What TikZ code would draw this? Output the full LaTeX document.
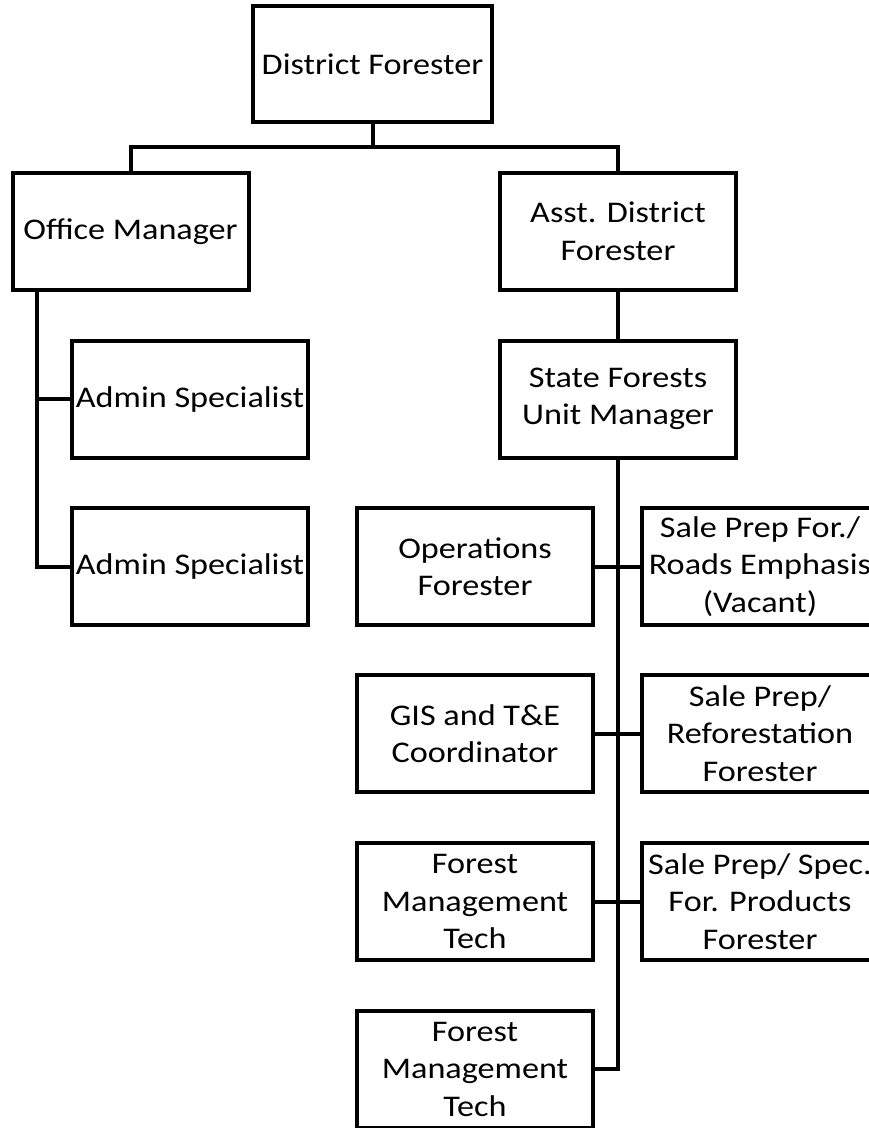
\documentclass[tikz,border=0pt]{standalone}
\usepackage{fontspec}
\setmainfont{Carlito}[FakeStretch=1.14]
\begin{document}
\begin{tikzpicture}[x=1pt,y=-1pt,
  box/.style={draw=black,line width=4pt,rectangle,minimum width=236pt,minimum height=117pt,inner sep=0pt,align=center,font=\fontsize{30}{37.5}\selectfont,fill=white},
  conn/.style={draw=black,line width=4pt}]
\useasboundingbox (0,0) rectangle (869,1128);
\clip (0,0) rectangle (869,1128);
\node[box,minimum width=239pt,minimum height=116pt] (df) at (372.5,64) {District Forester};
\node[box] (om) at (130.5,231.5) {Office Manager};
\node[box] (adf) at (618,231.5) {Asst. District\\Forester};
\node[box] (sfm) at (618,399) {State Forests\\Unit Manager};
\node[box] (as1) at (190,399) {Admin Specialist};
\node[box] (as2) at (190,566.5) {Admin Specialist};
\node[box] (ops) at (475,566.5) {Operations\\Forester};
\node[box] (sp1) at (760,566.5) {Sale Prep For./\\Roads Emphasis\\(Vacant)};
\node[box] (gis) at (475,733.5) {GIS and T\&E\\Coordinator};
\node[box] (sp2) at (760,733.5) {Sale Prep/\\Reforestation\\Forester};
\node[box] (fmt1) at (475,901.5) {Forest\\Management\\Tech};
\node[box] (sp3) at (760,901.5) {Sale Prep/ Spec.\\For. Products\\Forester};
\node[box] (fmt2) at (475,1069) {Forest\\Management\\Tech};
\coordinate (j) at (372.5,147);
\draw[conn] (df.south) -- (j);
\draw[conn] (om.north) |- (j) -| (adf.north);
\coordinate (ol) at (37,290);
\draw[conn] (ol) -- (ol |- as2.west) -- (as2.west);
\draw[conn] (ol |- as1.west) -- (as1.west);
\draw[conn] (adf.south) -- (sfm.north);
\draw[conn] (sfm.south) -- (sfm.south |- fmt2.east) -- (fmt2.east);
\draw[conn] (ops.east) -- (sp1.west);
\draw[conn] (gis.east) -- (sp2.west);
\draw[conn] (fmt1.east) -- (sp3.west);
\end{tikzpicture}
\end{document}
